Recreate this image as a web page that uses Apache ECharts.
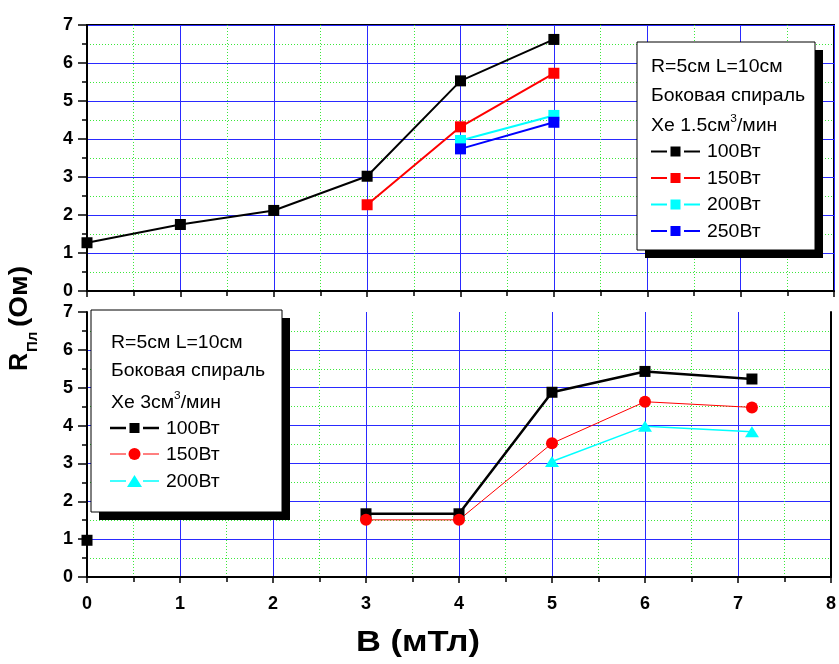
<!DOCTYPE html>
<html><head><meta charset="utf-8">
<script src="https://cdn.jsdelivr.net/npm/echarts@6/dist/echarts.min.js"></script>
<style>html,body{margin:0;padding:0;background:#fff}#c{width:839px;height:664px}</style>
</head><body><div id="c"></div>
<script>
// ---- data (top panel: Xe 1.5 см3/мин) ----
const top100X = [0, 1, 2, 3, 4, 5];
const top100  = [1.27, 1.75, 2.12, 3.02, 5.53, 6.62];
const top150X = [3, 4, 5];
const top150  = [2.27, 4.32, 5.73];
const top200X = [4, 5];
const top200  = [3.96, 4.62];
const top250X = [4, 5];
const top250  = [3.74, 4.44];
// ---- data (bottom panel: Xe 3 см3/мин); null = gap in the line ----
const bot100X = [0, null, 3, 4, 5, 6, 7.15];
const bot100  = [0.97, null, 1.67, 1.67, 4.88, 5.43, 5.23];
const bot150X = [3, 4, 5, 6, 7.15];
const bot150  = [1.51, 1.51, 3.53, 4.63, 4.48];
const bot200X = [5, 6, 7.15];
const bot200  = [3.05, 3.98, 3.84];
// ---- texts ----
const topLegendNames = ['100Вт', '150Вт', '200Вт', '250Вт'];
const botLegendNames = ['100Вт', '150Вт', '200Вт'];
const xTitle = 'B (мТл)';

const FONT = '"Liberation Sans", Arial, sans-serif';
const zip = (xs, ys) => xs.map((x, i) => (x === null || ys[i] === null) ? '-' : [x, ys[i]]);

function yAx(gi, hideMax) {
  return {
    type: 'value', gridIndex: gi, min: 0, max: 7, interval: 1,
    axisLine: { show: true, onZero: false, lineStyle: { color: '#000', width: 2 } },
    axisTick: { show: true, length: 9, lineStyle: { color: '#000', width: 1.5 } },
    minorTick: { show: true, splitNumber: 2, length: 5, lineStyle: { color: '#000', width: 1.5 } },
    axisLabel: { color: '#000', fontSize: 18, fontWeight: 'bold', fontFamily: FONT, margin: 14 },
    splitLine: { show: true, showMaxLine: !hideMax, lineStyle: { color: '#2a2aff', width: 1 } },
    minorSplitLine: { show: true, lineStyle: { color: '#3be83b', width: 1, type: [1, 2] } }
  };
}
function xAx(gi, labels) {
  return {
    type: 'value', gridIndex: gi, min: 0, max: 8, interval: 1,
    axisLine: { show: true, onZero: false, lineStyle: { color: '#000', width: 2 } },
    axisTick: { show: true, length: 6, lineStyle: { color: '#000', width: 1.5 } },
    minorTick: { show: true, splitNumber: 2, length: 5, lineStyle: { color: '#000', width: 1.5 } },
    axisLabel: { show: labels, color: '#000', fontSize: 18, fontWeight: 'bold', fontFamily: FONT, margin: 18 },
    splitLine: { show: true, lineStyle: { color: '#2a2aff', width: 1 } },
    minorSplitLine: { show: true, lineStyle: { color: '#3be83b', width: 1, type: [1, 2] } }
  };
}
function ser(xi, data, color, width, symbol, size) {
  return {
    type: 'line', xAxisIndex: xi, yAxisIndex: xi, data: data, connectNulls: false,
    symbol: symbol, symbolSize: size, showSymbol: true,
    itemStyle: { color: color, opacity: 1 },
    lineStyle: { color: color, width: width },
    emphasis: { disabled: true }, z: 3
  };
}

// ---- legend graphics ----
function legendBox(x, y, w, h, sh) {
  return [
    { type: 'rect', shape: { x: x + sh, y: y + sh, width: w, height: h }, style: { fill: '#000' }, z: 100 },
    { type: 'rect', shape: { x: x, y: y, width: w, height: h }, style: { fill: '#fff', stroke: '#000', lineWidth: 1 }, z: 101 }
  ];
}
function txt(x, y, text, extra) {
  return Object.assign({
    type: 'text', x: x, y: y, scaleX: 1.08, z: 102,
    style: { text: text, font: '18px ' + FONT, fill: '#000', verticalAlign: 'middle', align: 'left' }
  }, extra || {});
}
function legendItem(x0, y, name, color, lw, symbol, size) {
  const el = [
    { type: 'line', shape: { x1: x0, y1: y, x2: x0 + 16, y2: y }, style: { stroke: color, lineWidth: lw }, z: 102 },
    { type: 'line', shape: { x1: x0 + 33, y1: y, x2: x0 + 49, y2: y }, style: { stroke: color, lineWidth: lw }, z: 102 },
    txt(x0 + 56, y + 1, name)
  ];
  const cx = x0 + 24.5;
  if (symbol === 'rect') el.push({ type: 'rect', shape: { x: cx - 5, y: y - 5, width: 10, height: 10 }, style: { fill: color }, z: 103 });
  if (symbol === 'circle') el.push({ type: 'circle', shape: { cx: cx, cy: y, r: 6 }, style: { fill: color }, z: 103 });
  if (symbol === 'triangle') el.push({ type: 'polygon', shape: { points: [[cx, y - 6], [cx + 7.5, y + 6], [cx - 7.5, y + 6]] }, style: { fill: color }, z: 103 });
  return el;
}
function supLine(x, y, a) {
  return {
    type: 'text', x: x, y: y, scaleX: 1.08, z: 102,
    style: {
      text: '{a|' + a + '}{s|3}{a|/мин}', verticalAlign: 'middle', align: 'left',
      rich: {
        a: { font: '18px ' + FONT, fill: '#000', lineHeight: 22, verticalAlign: 'bottom' },
        s: { font: '11px ' + FONT, fill: '#000', lineHeight: 22, verticalAlign: 'top', padding: [0, 0, 10, 0] }
      }
    }
  };
}

const graphics = [];
// top legend
graphics.push(...legendBox(637, 42, 178, 208, 8));
graphics.push(txt(651, 67, 'R=5см L=10см'));
graphics.push(txt(651, 96, 'Боковая спираль'));
graphics.push(supLine(651, 124, 'Xe 1.5см'));
const tc = ['#000000', '#ff0000', '#00ffff', '#0000ff'];
topLegendNames.forEach((n, i) => graphics.push(...legendItem(651, 151.5 + i * 26.5, n, tc[i], 2, 'rect')));
// bottom legend
graphics.push(...legendBox(91, 310, 191, 202, 8));
graphics.push(txt(111, 343, 'R=5см L=10см'));
graphics.push(txt(111, 371, 'Боковая спираль'));
graphics.push(supLine(111, 401, 'Xe 3см'));
graphics.push(...legendItem(110, 428, botLegendNames[0], '#000000', 2.5, 'rect'));
graphics.push(...legendItem(110, 454, botLegendNames[1], '#ff0000', 1, 'circle'));
graphics.push(...legendItem(110, 481, botLegendNames[2], '#00ffff', 1.5, 'triangle'));
// y title (rotated)
graphics.push({
  type: 'group', x: 33, y: 371, rotation: Math.PI / 2, z: 50,
  children: [
    { type: 'text', x: 0, y: 0, style: { text: 'R', font: 'bold 25px ' + FONT, fill: '#000', verticalAlign: 'bottom', align: 'left' } },
    { type: 'text', x: 19, y: 7, style: { text: 'Пл', font: 'bold 15px ' + FONT, fill: '#000', verticalAlign: 'bottom', align: 'left' } },
    { type: 'text', x: 44, y: 0, scaleX: 1.12, style: { text: '(Ом)', font: 'bold 25px ' + FONT, fill: '#000', verticalAlign: 'bottom', align: 'left' } }
  ]
});
// x title
graphics.push({ type: 'text', x: 418, y: 643, scaleX: 1.15, z: 50,
  style: { text: xTitle, font: 'bold 30px ' + FONT, fill: '#000', align: 'center', verticalAlign: 'middle' } });

const chart = echarts.init(document.getElementById('c'), null, { renderer: 'canvas' });
chart.setOption({
  animation: false,
  backgroundColor: '#fff',
  grid: [
    { left: 87, top: 25, width: 747, height: 266, show: true, borderColor: '#000', borderWidth: 2, backgroundColor: 'transparent' },
    { left: 87, top: 312, width: 747, height: 265 }
  ],
  xAxis: [xAx(0, false), xAx(1, true)],
  yAxis: [yAx(0, false), yAx(1, true),
    { type: 'value', gridIndex: 1, position: 'right', min: 0, max: 7, axisLine: { show: true, onZero: false, lineStyle: { color: '#000', width: 2 } },
      axisTick: { show: false }, axisLabel: { show: false }, splitLine: { show: false } }],
  series: [
    ser(0, zip(top100X, top100), '#000000', 2, 'rect', 11),
    ser(0, zip(top150X, top150), '#ff0000', 2, 'rect', 11),
    ser(0, zip(top200X, top200), '#00ffff', 2, 'rect', 11),
    ser(0, zip(top250X, top250), '#0000ff', 2, 'rect', 11),
    ser(1, zip(bot100X, bot100), '#000000', 2.5, 'rect', 11),
    ser(1, zip(bot150X, bot150), '#ff0000', 1, 'circle', 12),
    ser(1, zip(bot200X, bot200), '#00ffff', 1.5, 'triangle', [14, 11])
  ],
  graphic: graphics
});
</script></body></html>
